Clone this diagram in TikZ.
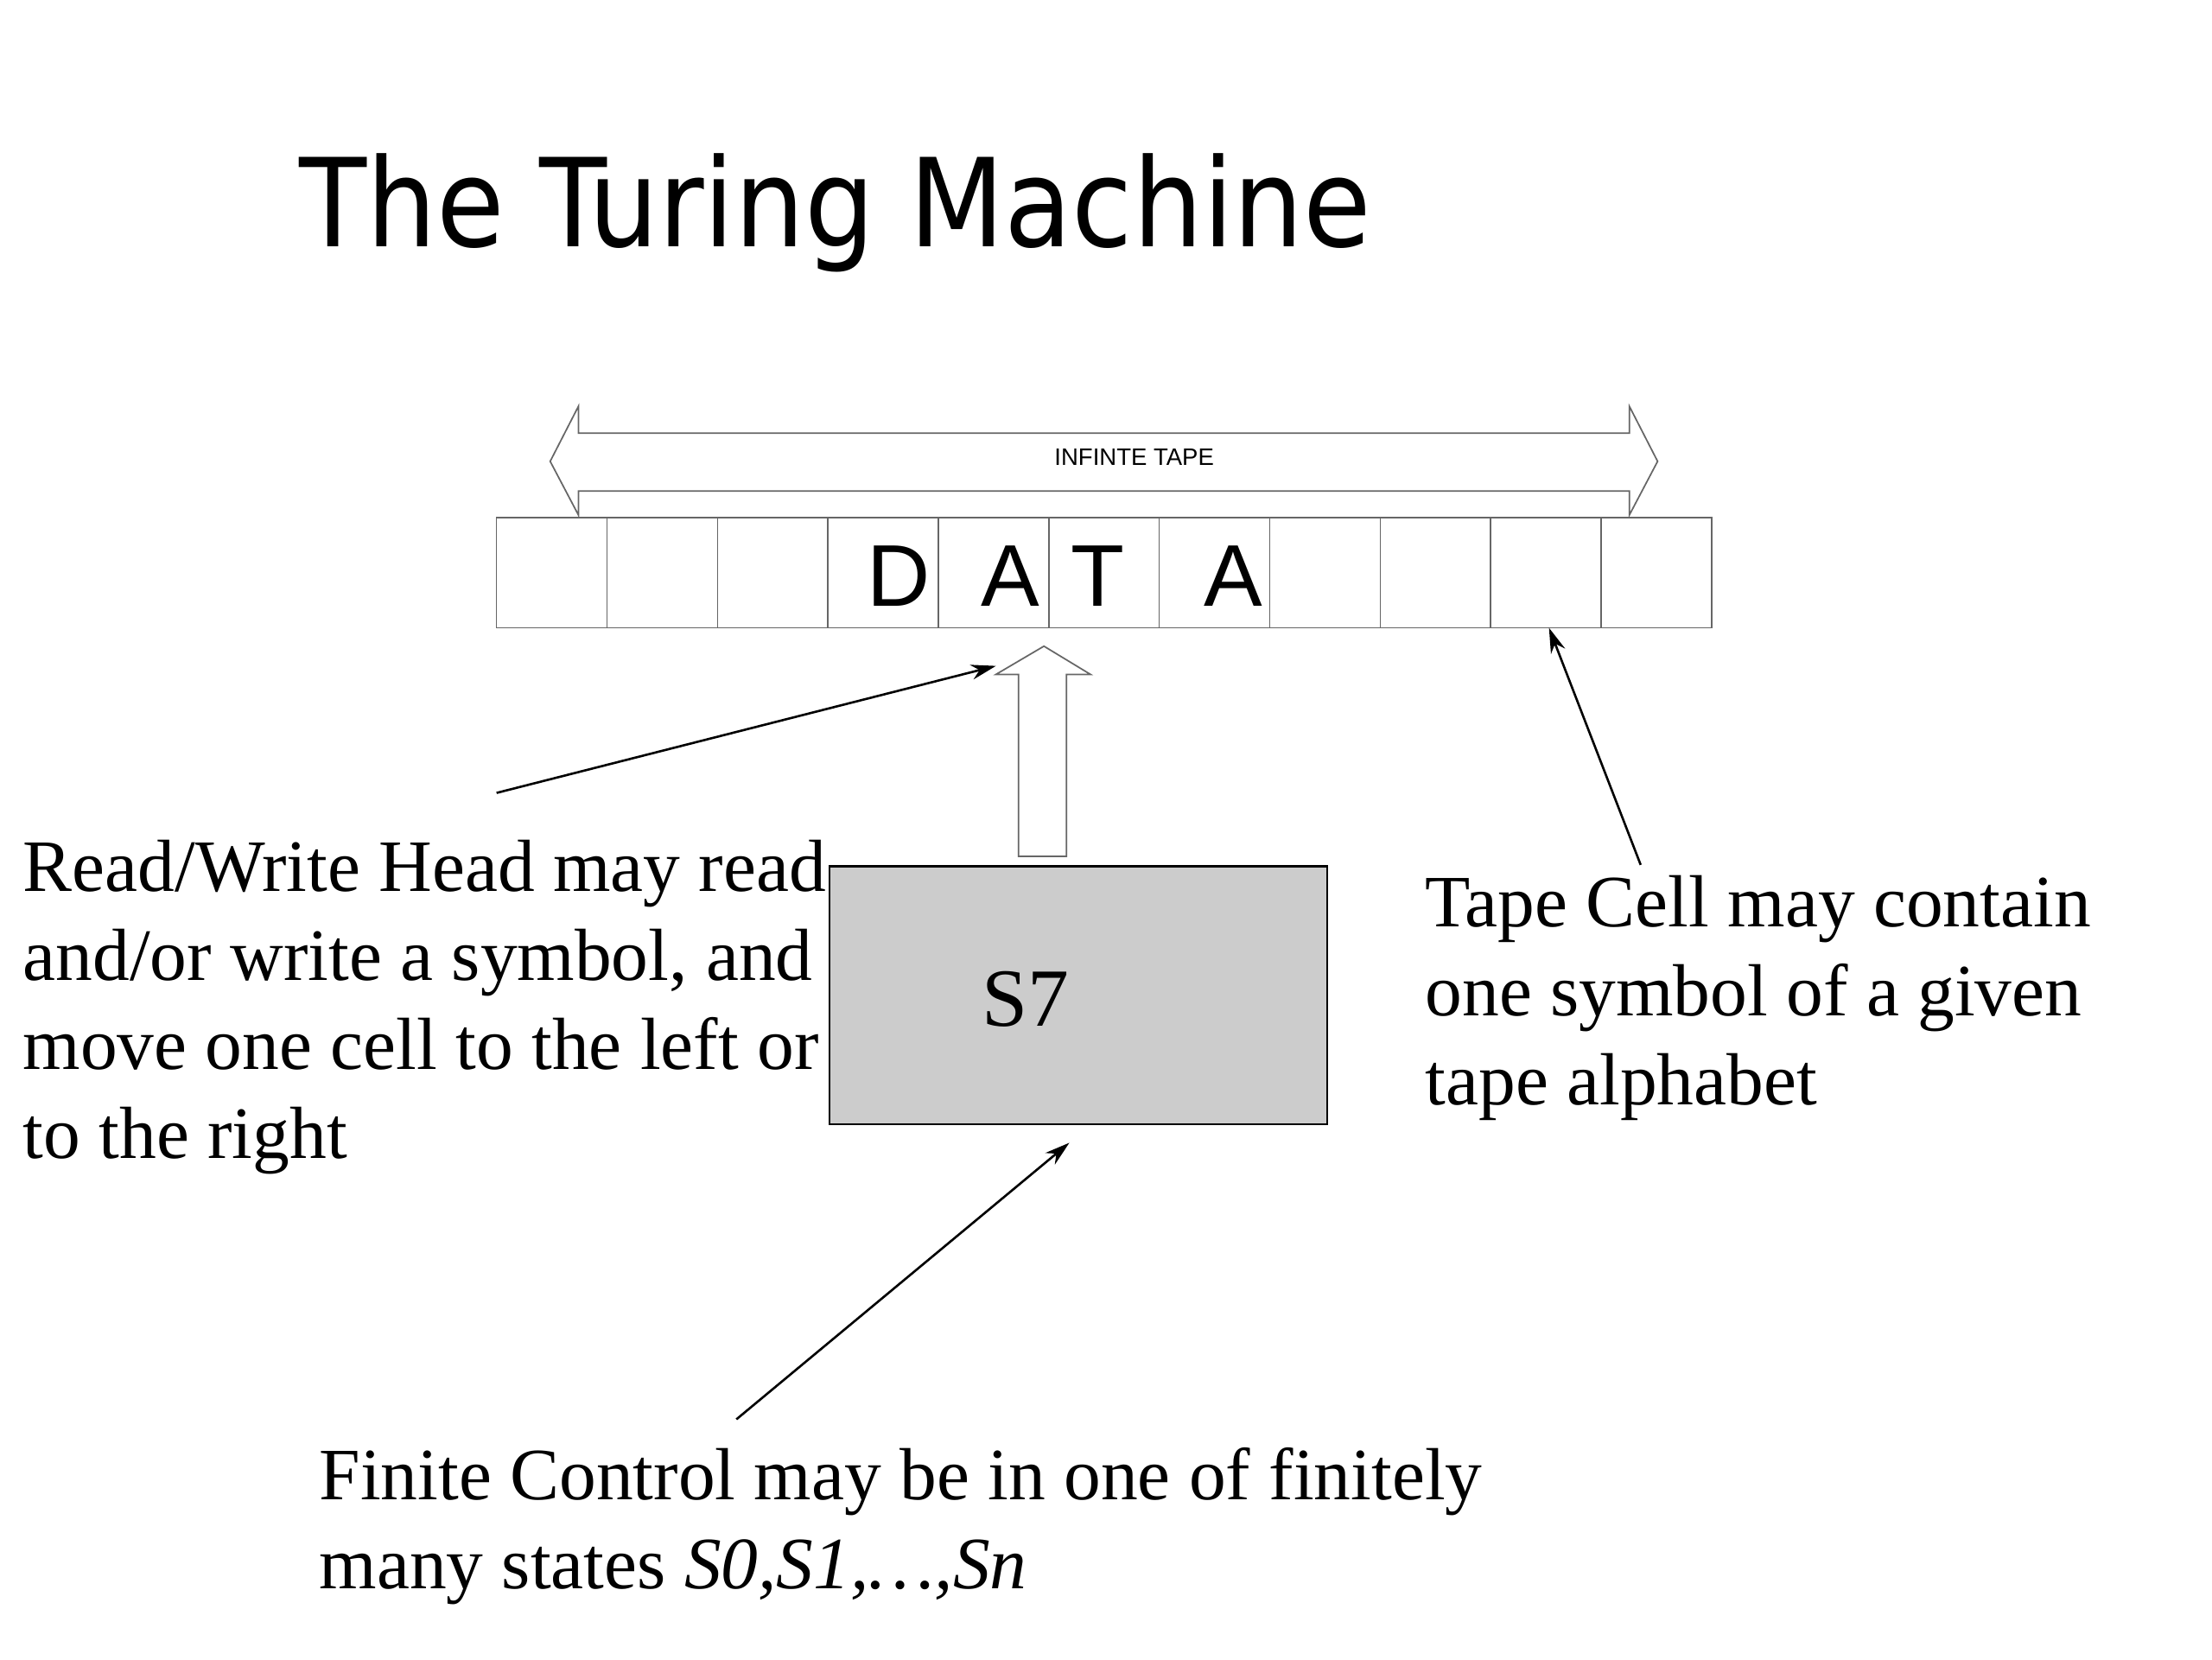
\documentclass[tikz,border=0pt]{standalone}
\usepackage{fontspec}
\setmainfont{Liberation Serif}
\setsansfont{Liberation Sans}
\newfontfamily\titlefont{DejaVu Sans Condensed}
\usetikzlibrary{arrows.meta}
\newcommand\mylines[1]{\begin{tabular}[t]{@{}l@{}}#1\end{tabular}}
\begin{document}
\begin{tikzpicture}[x=0.0198cm,y=-0.0198cm,
  cellbox/.style={draw=black!60,line width=0.5pt,minimum width=1.55cm,minimum height=1.545cm,inner sep=0,outer sep=0},
  txt/.style={font=\fontsize{29.5}{35.5}\selectfont,inner sep=0,anchor=base west},
  arr/.style={-{Stealth[length=10pt,width=6pt]},line width=0.9pt},
  letter/.style={font=\sffamily\fontsize{35}{40}\selectfont,inner sep=0}]
\useasboundingbox (0,0) rectangle (1568,1176);
\node[anchor=base west,inner sep=0,font=\titlefont\fontsize{49}{56}\selectfont] (title) at (212,175) {The Turing Machine};
% tape
\foreach \i in {0,...,10}{
  \node[cellbox] (c\i) at ({352+39.15+78.3*\i},406) {};
}
\node[letter] (l1) at (637,408) {D};
\node[letter] (l2) at (716,408) {A};
\node[letter] (l3) at (778,408) {T};
\node[letter] (l4) at (874,408) {A};
% infinite tape double arrow
\draw[black!60,line width=0.6pt] (410,307) -- (1155,307) -- (1155,288) -- (1175,327) -- (1155,365) -- (1155,348) -- (410,348) -- (410,365) -- (390,327) -- (410,288) -- cycle;
\node[font=\sffamily\fontsize{9.5}{11}\selectfont] (tape) at (804,324) {INFINTE TAPE};
% block arrow up
\draw[black!60,line width=0.6pt,fill=white] (722,607) -- (722,478) -- (706,478) -- (740,458) -- (773,478) -- (756,478) -- (756,607) -- cycle;
% control box
\node[draw=black,fill=black!20,line width=0.8pt,minimum width=6.99cm,minimum height=3.62cm,inner sep=0] (box) at (764.5,705.5) {};
\node[font=\fontsize{33}{38}\selectfont,inner sep=0] (s7) at (727,708) {S7};
% texts (base anchor = first line)
\node[txt] (rw) at (16,632) {\mylines{Read/Write Head may read\\and/or write a symbol, and\\move one cell to the left or\\to the right}};
\node[txt] (tc) at (1010,657) {\mylines{Tape Cell may contain\\one symbol of a given\\tape alphabet}};
\node[txt] (fc) at (226,1063) {\mylines{Finite Control may be in one of finitely\\many states \textit{S0,S1,…,Sn}}};
% pointer arrows
\coordinate (a1) at (352,562); \coordinate (h1) at (706,472);
\coordinate (a2) at (1163,613); \coordinate (h2) at (1098,445);
\coordinate (a3) at (522,1006); \coordinate (h3) at (758,810);
\draw[arr] (a1) -- (h1);
\draw[arr] (a2) -- (h2);
\draw[arr] (a3) -- (h3);
\end{tikzpicture}
\end{document}
